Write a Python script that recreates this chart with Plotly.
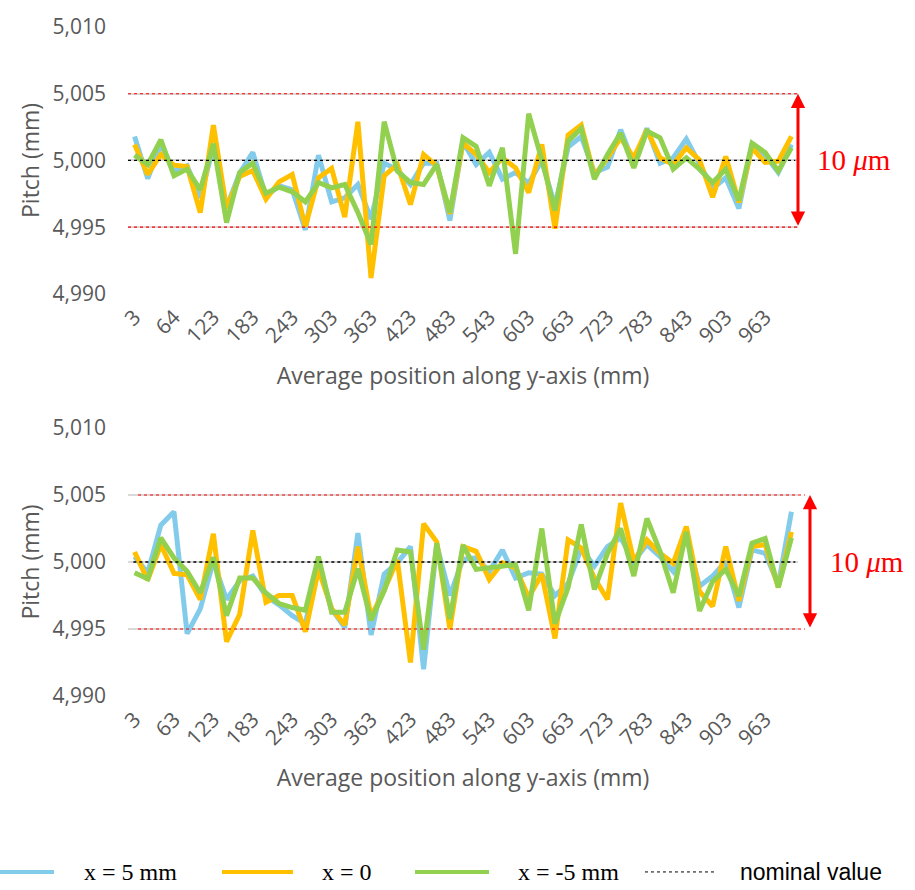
import plotly.graph_objects as go

# ---------------- data ----------------
top_positions = ["3", "23", "43", "64", "84", "104", "123", "143", "163", "183", "203", "223",
                 "243", "263", "283", "303", "323", "343", "363", "383", "403", "423", "443", "463",
                 "483", "503", "523", "543", "563", "583", "603", "623", "643", "663", "683", "703",
                 "723", "743", "763", "783", "803", "823", "843", "863", "883", "903", "923", "943",
                 "963", "983", "1003"]
bot_positions = ["3", "23", "43", "63", "83", "103", "123", "143", "163", "183", "203", "223",
                 "243", "263", "283", "303", "323", "343", "363", "383", "403", "423", "443", "463",
                 "483", "503", "523", "543", "563", "583", "603", "623", "643", "663", "683", "703",
                 "723", "743", "763", "783", "803", "823", "843", "863", "883", "903", "923", "943",
                 "963", "983", "1003"]
top_ticks = ["3", "64", "123", "183", "243", "303", "363", "423", "483", "543", "603", "663",
             "723", "783", "843", "903", "963"]
bot_ticks = ["3", "63", "123", "183", "243", "303", "363", "423", "483", "543", "603", "663",
             "723", "783", "843", "903", "963"]

top_x5 = [5.0018, 4.99865, 5.0012, 4.9992, 4.9996, 4.9972, 5.00105, 4.9965, 4.99905, 5.0006,
          4.9973, 4.9981, 4.9978, 4.9948, 5.0004, 4.9969, 4.9972, 4.9982, 4.9956, 4.9998,
          4.9993, 4.9982, 4.9998, 4.9998, 4.9955, 5.0014, 4.9997, 5.0006, 4.9986, 4.9991,
          4.9983, 5.0000, 4.9966, 5.0010, 5.0018, 4.9991, 4.9995, 5.0023, 4.9998, 5.0024,
          4.9998, 5.0002, 5.0016, 4.9997, 4.9979, 4.9987, 4.9964, 5.0012, 5.0004, 4.9991,
          5.0012]
top_x0 = [5.0012, 4.99895, 5.00045, 4.99965, 4.99955, 4.9961, 5.00265, 4.9964, 4.9988, 4.99925,
          4.9971, 4.9984, 4.99895, 4.99505, 4.9987, 4.9994, 4.99575, 5.0029, 4.9912, 4.99885,
          4.9997, 4.9967, 5.00045, 4.9996, 4.9960, 5.0013, 5.00045, 4.9991, 5.0002, 4.99945,
          4.9976, 5.0012, 4.9949, 5.0019, 5.00265, 4.99885, 5.0002, 5.0017, 5.0002, 5.0023,
          5.0002, 4.9997, 5.00095, 5.00005, 4.99725, 5.0003, 4.99685, 5.00095, 4.99985, 4.99995,
          5.0018]
top_xm5 = [5.0004, 4.9997, 5.00155, 4.99885, 4.99935, 4.9978, 5.00125, 4.99535, 4.9991, 4.9998,
           4.99755, 4.9980, 4.99765, 4.9969, 4.99835, 4.99795, 4.9982, 4.9961, 4.9937, 5.0029,
           4.9992, 4.99835, 4.9982, 4.9997, 4.9961, 5.0017, 5.00105, 4.9981, 5.00095, 4.9930,
           5.0035, 5.00005, 4.99625, 5.00145, 5.0024, 4.9986, 5.00045, 5.00205, 4.99945, 5.0022,
           5.0017, 4.99935, 5.0002, 4.99935, 4.99835, 4.99935, 4.9970, 5.0013, 5.0006, 4.9992,
           5.00095]

bot_x5 = [5.0004, 4.9992, 5.00275, 5.00375, 4.99465, 4.9965, 5.00005, 4.9972, 4.9986, 4.99895,
          4.99745, 4.9968, 4.9960, 4.9954, 4.9998, 4.9965, 4.9951, 5.00215, 4.99455, 4.9991,
          4.99995, 5.00115, 4.9920, 5.0013, 4.9975, 5.0002, 5.0003, 4.9993, 5.0009, 4.9988,
          4.9992, 4.9991, 4.9975, 4.9984, 5.0010, 4.9997, 5.00115, 5.0018, 5.00005, 5.0013,
          5.0004, 4.9993, 5.0019, 4.9982, 4.99895, 5.00005, 4.9966, 5.0009, 5.00065, 4.9983,
          5.00375]
bot_x0 = [5.00075, 4.99865, 5.0013, 4.99915, 4.99905, 4.9972, 5.0021, 4.99405, 4.9961, 5.00235,
          4.9970, 4.9975, 4.9975, 4.9948, 4.99945, 4.9965, 4.9953, 5.00115, 4.9959, 4.9979,
          5.00015, 4.9925, 5.00285, 5.0015, 4.9950, 5.00115, 5.0008, 4.9987, 4.99995, 4.99955,
          4.99735, 4.9991, 4.9943, 5.00165, 5.00105, 4.9988, 4.9972, 5.0044, 5.00005, 5.00165,
          5.00065, 4.9999, 5.00265, 4.9978, 4.9967, 5.00115, 4.9971, 5.00115, 5.0013, 4.9981,
          5.00225]
bot_xm5 = [4.9992, 4.99875, 5.0018, 5.0003, 4.9993, 4.9977, 5.00035, 4.9960, 4.9988, 4.9988,
           4.9977, 4.9969, 4.9966, 4.9964, 5.0004, 4.99625, 4.99625, 4.9995, 4.99565, 4.99785,
           5.0009, 5.00075, 4.99345, 5.0014, 4.99575, 5.00125, 4.99945, 4.99955, 4.9997, 4.9998,
           4.9964, 5.0025, 4.9954, 4.9981, 5.0028, 4.99795, 5.00065, 5.0025, 4.99895, 5.00325,
           5.0008, 4.9977, 5.00225, 4.99635, 4.99855, 4.99945, 4.99745, 5.0014, 5.00175, 4.9981,
           5.0018]

nominal = 5.000
upper_lim = 5.005
lower_lim = 4.995
y_range = [4.990, 5.010]

series_names = ["x = 5 mm", "x = 0", "x = -5 mm"]
series_colors = ["#83CBEB", "#FFC000", "#92D050"]

# ---------------- figure ----------------
fig = go.Figure()
for vals, name, col in zip([top_x5, top_x0, top_xm5], series_names, series_colors):
    fig.add_trace(go.Scatter(x=top_positions, y=vals, mode="lines", name=name,
                             line=dict(color=col, width=5), xaxis="x", yaxis="y",
                             showlegend=False))
for vals, name, col in zip([bot_x5, bot_x0, bot_xm5], series_names, series_colors):
    fig.add_trace(go.Scatter(x=bot_positions, y=vals, mode="lines", name=name,
                             line=dict(color=col, width=5), xaxis="x2", yaxis="y2",
                             showlegend=False))

tick_font = dict(family="Open Sans", size=21, color="#595959")
title_font = dict(family="Open Sans", size=23, color="#595959")

xcommon = dict(type="category", range=[-0.5, 50.5], tickmode="array", tickangle=-45,
               showgrid=False, zeroline=False, showline=False, ticks="",
               tickfont=tick_font, ticklabelstandoff=6)
ycommon = dict(range=y_range, tick0=4.990, dtick=0.005, tickformat=".3f",
               showgrid=True, gridcolor="#D9D9D9", gridwidth=1.5, zeroline=False,
               showline=False, ticks="", tickfont=tick_font, ticklabelstandoff=21)

fig.update_layout(
    width=915, height=890,
    margin=dict(l=128, r=117, t=17, b=194),
    paper_bgcolor="white", plot_bgcolor="white",
    separators=",.",
    showlegend=False,
    xaxis=dict(xcommon, domain=[0, 1], anchor="y", categoryorder="array",
               categoryarray=top_positions, tickvals=top_ticks, ticktext=top_ticks,
               title=dict(text="Average position along y-axis (mm)", font=title_font, standoff=20)),
    yaxis=dict(ycommon, domain=[0.601, 1], anchor="x",
               title=dict(text="Pitch (mm)", font=title_font, standoff=6)),
    xaxis2=dict(xcommon, domain=[0, 1], anchor="y2", categoryorder="array",
                categoryarray=bot_positions, tickvals=bot_ticks, ticktext=bot_ticks,
                title=dict(text="Average position along y-axis (mm)", font=title_font, standoff=20)),
    yaxis2=dict(ycommon, domain=[0, 0.4006], anchor="x2",
                title=dict(text="Pitch (mm)", font=title_font, standoff=6)),
)

# reference lines (tolerance limits and nominal value)
shapes = []
for yref, xr_red, xr_blk in [("y", (0.0, 1.0), (0.0, 0.996)),
                             ("y2", (0.015, 1.0104), (0.008, 0.996))]:
    for lim in (upper_lim, lower_lim):
        shapes.append(dict(type="line", xref="paper", yref=yref, x0=xr_red[0], x1=xr_red[1],
                           y0=lim, y1=lim, line=dict(color="#FF0000", width=1.2, dash="dot"),
                           layer="above"))
    shapes.append(dict(type="line", xref="paper", yref=yref, x0=xr_blk[0], x1=xr_blk[1],
                       y0=nominal, y1=nominal, line=dict(color="#000000", width=1.3, dash="dot"),
                       layer="above"))

# manual legend
leg_y = -0.2630
leg_items = [
    (series_colors[0], 4, "solid", -0.191, -0.1104, series_names[0], 0.003, "Liberation Serif", 24),
    (series_colors[1], 4, "solid", 0.1403, 0.2463, series_names[1], 0.3269, "Liberation Serif", 24),
    (series_colors[2], 4, "solid", 0.4284, 0.5388, series_names[2], 0.6575, "Liberation Serif", 24),
    ("#000000", 1, "dot", 0.7716, 0.8776, "nominal value", 1.0187, "Liberation Sans", 23),
]
annotations = []
for col, w, dash, x0, x1, txt, tx, fam, fs in leg_items:
    shapes.append(dict(type="line", xref="paper", yref="paper", x0=x0, x1=x1, y0=leg_y, y1=leg_y,
                       line=dict(color=col, width=w, dash=dash)))
    annotations.append(dict(text=txt, xref="paper", yref="paper", x=tx, y=leg_y, showarrow=False,
                            xanchor="center", yanchor="middle", borderpad=0,
                            font=dict(family=fam, size=fs, color="#000000")))

# 10 µm arrows
for yref, xa, xt in [("y", 1.0, 1.0836), ("y2", 1.0179, 1.1037)]:
    annotations.append(dict(x=xa, y=upper_lim, xref="paper", yref=yref,
                            ax=0, ay=lower_lim, axref="pixel", ayref=yref,
                            showarrow=True, arrowhead=2, startarrowhead=2, arrowside="end+start",
                            arrowsize=0.95, startarrowsize=0.95, arrowwidth=3, arrowcolor="#FF0000",
                            text=""))
    annotations.append(dict(x=xt, y=nominal, xref="paper", yref=yref, showarrow=False,
                            text="10 <i>μ</i>m", xanchor="center", yanchor="middle",
                            font=dict(family="Liberation Serif", size=29, color="#FF0000")))

fig.update_layout(shapes=shapes, annotations=annotations)

fig.write_html("out.html")
